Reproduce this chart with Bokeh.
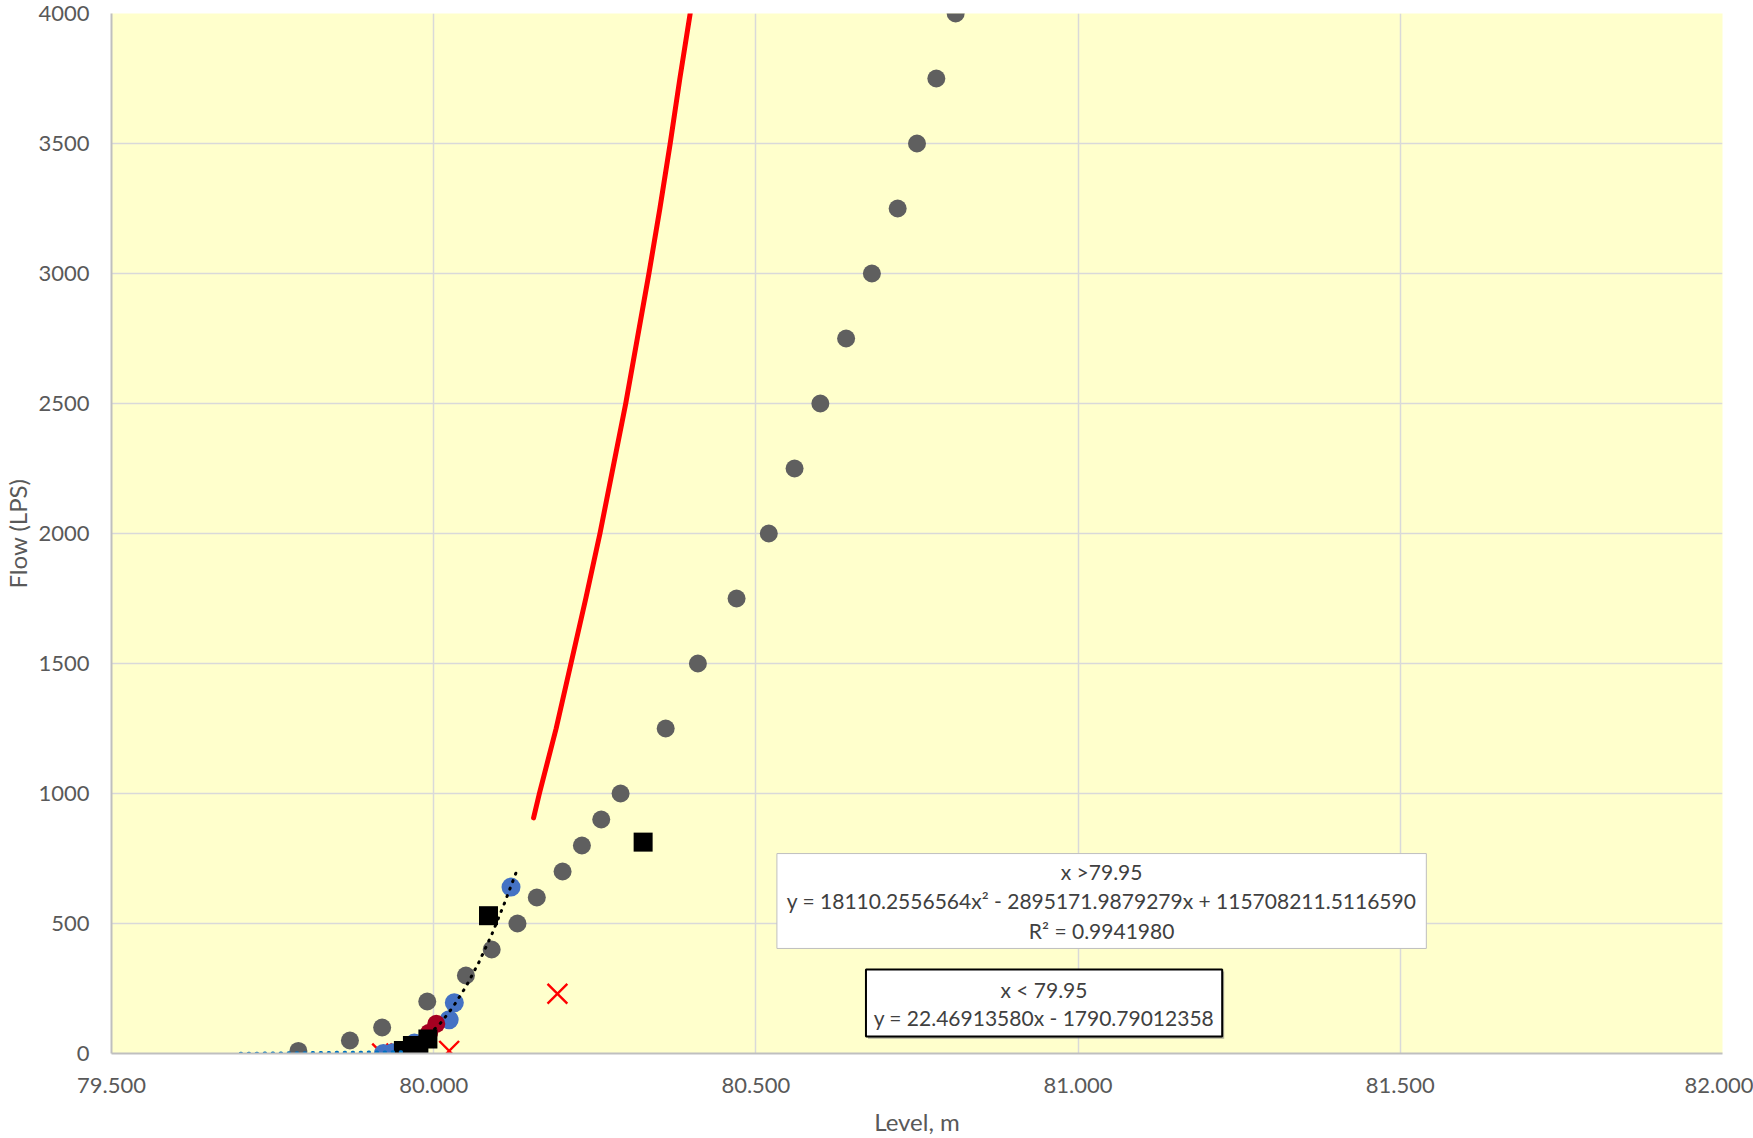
from bokeh.plotting import figure
from bokeh.models import Range1d, FixedTicker, NumeralTickFormatter, BoxAnnotation, Label
from bokeh.embed import file_html
from bokeh.resources import INLINE

# ---- data ----
gray_x = [79.79, 79.87, 79.92, 79.99, 80.05, 80.09, 80.13, 80.16, 80.20, 80.23, 80.26, 80.29,
          80.36, 80.41, 80.47, 80.52, 80.56, 80.60, 80.64, 80.68, 80.72, 80.75, 80.78, 80.81]
gray_y = [10, 50, 100, 200, 300, 400, 500, 600, 700, 800, 900, 1000,
          1250, 1500, 1750, 2000, 2250, 2500, 2750, 3000, 3250, 3500, 3750, 4000]

blue_x = [79.922, 79.936, 79.970, 80.024, 80.032, 80.120]
blue_y = [0, 3, 40, 130, 195, 640]

maroon_x = [79.993, 80.004]
maroon_y = [80, 114]

purple_x = [79.950]
purple_y = [0]

square_x = [79.953, 79.967, 79.977, 79.991, 80.085, 80.325]
square_y = [12, 31, 12, 56, 530, 813]

cross_x = [79.920, 79.942, 79.966, 80.024, 80.192]
cross_y = [0, 0, 0, 10, 230]

trend_x = [79.95, 79.97, 79.99, 80.01, 80.03, 80.05, 80.07, 80.09, 80.11, 80.13]
trend_y = [11, 31, 66, 115, 179, 257, 350, 457, 579, 710]

lin_x = [79.70, 79.95]
lin_y = [0, 6]

red_x = [80.155, 80.164, 80.190, 80.213, 80.236, 80.258, 80.278, 80.298, 80.316,
         80.334, 80.351, 80.367, 80.382, 80.398]
red_y = [906, 1000, 1250, 1500, 1750, 2000, 2250, 2500, 2750,
         3000, 3250, 3500, 3750, 4000]

x_ticks = [79.5, 80.0, 80.5, 81.0, 81.5, 82.0]
y_ticks = [0, 500, 1000, 1500, 2000, 2500, 3000, 3500, 4000]

box1_lines = ["x >79.95",
              "y = 18110.2556564x\u00b2 - 2895171.9879279x + 115708211.5116590",
              "R\u00b2 = 0.9941980"]
box2_lines = ["x < 79.95", "y = 22.46913580x - 1790.79012358"]

FONT = "Lato"
TXT = "#595959"

p = figure(width=1753, height=1138, x_range=Range1d(79.5, 82.0), y_range=Range1d(0, 4000),
           output_backend="svg", toolbar_location=None,
           min_border_left=111, min_border_right=31, min_border_top=13, min_border_bottom=85)
p.background_fill_color = "#FFFFCC"
p.border_fill_color = "white"
p.outline_line_color = None

p.xaxis.ticker = FixedTicker(ticks=x_ticks)
p.yaxis.ticker = FixedTicker(ticks=y_ticks)
p.xaxis.formatter = NumeralTickFormatter(format="0.000")
p.yaxis.formatter = NumeralTickFormatter(format="0")
for ax in (p.xaxis[0], p.yaxis[0]):
    ax.major_tick_out = 0
    ax.major_tick_in = 0
    ax.minor_tick_out = 0
    ax.minor_tick_in = 0
    ax.axis_line_color = "#BFBFBF"
    ax.axis_line_width = 2
    ax.major_label_text_font = FONT
    ax.major_label_text_font_size = "22px"
    ax.major_label_text_color = TXT
    ax.axis_label_text_font = FONT
    ax.axis_label_text_font_size = "24px"
    ax.axis_label_text_font_style = "normal"
    ax.axis_label_text_color = TXT
p.xaxis.axis_label = "Level, m"
p.yaxis.axis_label = "Flow (LPS)"
p.xaxis.major_label_standoff = 24
p.xaxis.axis_label_standoff = 11
p.yaxis.major_label_standoff = 22
p.yaxis.axis_label_standoff = 3

p.xgrid.grid_line_color = "#D9D9D9"
p.ygrid.grid_line_color = "#D9D9D9"
p.xgrid.grid_line_width = 1.5
p.ygrid.grid_line_width = 1.5

# markers
p.scatter(cross_x, cross_y, marker="x", size=28, line_color="#FF0000", line_width=2.4)
p.scatter(gray_x, gray_y, marker="circle", size=18, fill_color="#5F5F5F", line_color=None)
p.scatter(purple_x, purple_y, marker="circle", size=18, fill_color="#7030A0", line_color=None)
p.scatter(blue_x, blue_y, marker="circle", size=19, fill_color="#4472C4", line_color=None)
p.scatter(maroon_x, maroon_y, marker="circle", size=18, fill_color="#A50021", line_color=None)
p.scatter(square_x, square_y, marker="square", size=19, fill_color="black", line_color=None)

# lines
p.line(trend_x, trend_y, line_color="black", line_width=3, line_dash="1 7", line_cap="round")
p.line(lin_x, lin_y, line_color="#0070C0", line_width=3.4, line_dash="1 7", line_cap="round")
p.line(red_x, red_y, line_color="#FF0000", line_width=5, line_cap="round", line_join="round")

# equation boxes
p.add_layout(BoxAnnotation(left=80.5326, right=81.5404, top=769, bottom=404,
                           fill_color="white", fill_alpha=1, line_color="#BFBFBF",
                           line_alpha=1, line_width=1))
p.add_layout(BoxAnnotation(left=80.6708 + 0.0031, right=81.2236 + 0.0031, top=323 - 8, bottom=65 - 8,
                           fill_color="#808080", fill_alpha=0.6, line_color=None))
p.add_layout(BoxAnnotation(left=80.6708, right=81.2236, top=323, bottom=65,
                           fill_color="white", fill_alpha=1, line_color="black",
                           line_alpha=1, line_width=2))

for txt, yy in zip(box1_lines, [700, 588, 473]):
    p.add_layout(Label(x=81.0365, y=yy, text=txt, text_align="center", text_baseline="middle",
                       text_font=FONT, text_font_size="21px", text_color="#404040"))
for txt, yy in zip(box2_lines, [248, 138]):
    p.add_layout(Label(x=80.947, y=yy, text=txt, text_align="center", text_baseline="middle",
                       text_font=FONT, text_font_size="21px", text_color="#404040"))

open("out.html", "w").write(file_html(p, INLINE))
